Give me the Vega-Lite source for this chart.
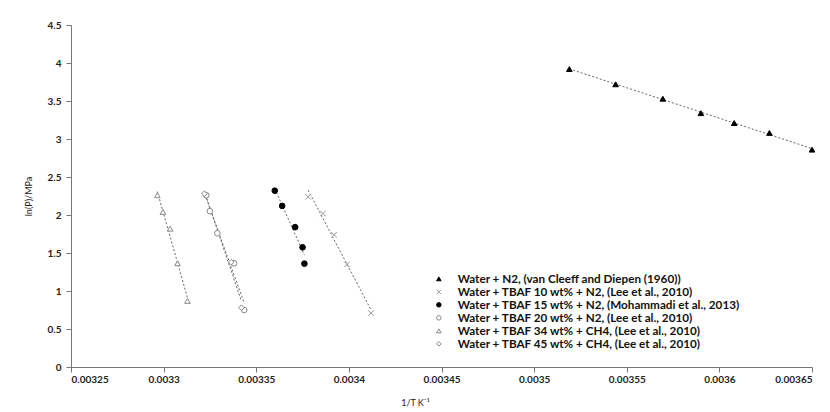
{
  "$schema": "https://vega.github.io/schema/vega-lite/v6.json",
  "width": 741,
  "height": 342,
  "autosize": "none",
  "padding": {"left": 71, "top": 25, "right": 18, "bottom": 45},
  "background": "white",
  "config": {
    "view": {"stroke": null},
    "font": "Lato",
    "axis": {
      "grid": false,
      "domainColor": "#777",
      "tickColor": "#777",
      "labelFont": "Lato",
      "labelFontWeight": "bold",
      "labelFontSize": 10,
      "labelColor": "#222",
      "labelOverlap": false,
      "titleFont": "Lato",
      "titleFontWeight": "normal",
      "titleFontSize": 9,
      "titleColor": "#222"
    }
  },
  "data": {
    "values": [
      {"s": "Water + N2, (van Cleeff and Diepen (1960))", "x": 0.003519, "y": 3.92},
      {"s": "Water + N2, (van Cleeff and Diepen (1960))", "x": 0.003544, "y": 3.72},
      {"s": "Water + N2, (van Cleeff and Diepen (1960))", "x": 0.0035695, "y": 3.53},
      {"s": "Water + N2, (van Cleeff and Diepen (1960))", "x": 0.00359, "y": 3.34},
      {"s": "Water + N2, (van Cleeff and Diepen (1960))", "x": 0.003608, "y": 3.21},
      {"s": "Water + N2, (van Cleeff and Diepen (1960))", "x": 0.003627, "y": 3.08},
      {"s": "Water + N2, (van Cleeff and Diepen (1960))", "x": 0.00365, "y": 2.86},
      {"s": "Water + TBAF 10 wt% + N2, (Lee et al., 2010)", "x": 0.003378, "y": 2.24},
      {"s": "Water + TBAF 10 wt% + N2, (Lee et al., 2010)", "x": 0.003386, "y": 2.02},
      {"s": "Water + TBAF 10 wt% + N2, (Lee et al., 2010)", "x": 0.003392, "y": 1.74},
      {"s": "Water + TBAF 10 wt% + N2, (Lee et al., 2010)", "x": 0.003399, "y": 1.35},
      {"s": "Water + TBAF 10 wt% + N2, (Lee et al., 2010)", "x": 0.003412, "y": 0.71},
      {"s": "Water + TBAF 15 wt% + N2, (Mohammadi et al., 2013)", "x": 0.00336, "y": 2.32},
      {"s": "Water + TBAF 15 wt% + N2, (Mohammadi et al., 2013)", "x": 0.003364, "y": 2.12},
      {"s": "Water + TBAF 15 wt% + N2, (Mohammadi et al., 2013)", "x": 0.003371, "y": 1.84},
      {"s": "Water + TBAF 15 wt% + N2, (Mohammadi et al., 2013)", "x": 0.003375, "y": 1.575},
      {"s": "Water + TBAF 15 wt% + N2, (Mohammadi et al., 2013)", "x": 0.003376, "y": 1.36},
      {"s": "Water + TBAF 20 wt% + N2, (Lee et al., 2010)", "x": 0.003323, "y": 2.26},
      {"s": "Water + TBAF 20 wt% + N2, (Lee et al., 2010)", "x": 0.003325, "y": 2.05},
      {"s": "Water + TBAF 20 wt% + N2, (Lee et al., 2010)", "x": 0.003329, "y": 1.76},
      {"s": "Water + TBAF 20 wt% + N2, (Lee et al., 2010)", "x": 0.003338, "y": 1.365},
      {"s": "Water + TBAF 20 wt% + N2, (Lee et al., 2010)", "x": 0.0033435, "y": 0.75},
      {"s": "Water + TBAF 34 wt% + CH4, (Lee et al., 2010)", "x": 0.0032966, "y": 2.26},
      {"s": "Water + TBAF 34 wt% + CH4, (Lee et al., 2010)", "x": 0.0032996, "y": 2.04},
      {"s": "Water + TBAF 34 wt% + CH4, (Lee et al., 2010)", "x": 0.0033035, "y": 1.82},
      {"s": "Water + TBAF 34 wt% + CH4, (Lee et al., 2010)", "x": 0.0033075, "y": 1.365},
      {"s": "Water + TBAF 34 wt% + CH4, (Lee et al., 2010)", "x": 0.0033129, "y": 0.87},
      {"s": "Water + TBAF 45 wt% + CH4, (Lee et al., 2010)", "x": 0.003322, "y": 2.28},
      {"s": "Water + TBAF 45 wt% + CH4, (Lee et al., 2010)", "x": 0.0033365, "y": 1.38},
      {"s": "Water + TBAF 45 wt% + CH4, (Lee et al., 2010)", "x": 0.003342, "y": 0.78}
    ]
  },
  "encoding": {
    "x": {
      "field": "x",
      "type": "quantitative",
      "scale": {"domain": [0.00325, 0.00365], "nice": false, "zero": false},
      "axis": {"values": [0.00325, 0.0033, 0.00335, 0.0034, 0.00345, 0.0035, 0.00355, 0.0036, 0.00365], "format": ".5~f", "title": "1/T K⁻¹", "titlePadding": 14, "tickSize": 5, "labelPadding": 2, "titleX": 344}
    },
    "y": {
      "field": "y",
      "type": "quantitative",
      "scale": {"domain": [0, 4.5], "nice": false, "zero": true},
      "axis": {"values": [0, 0.5, 1, 1.5, 2, 2.5, 3, 3.5, 4, 4.5], "format": ".1~f", "title": "ln(P)/MPa", "tickSize": 5, "labelPadding": 5, "titlePadding": 14}
    }
  },
  "layer": [
    {
      "transform": [{"regression": "y", "on": "x", "groupby": ["s"]}],
      "mark": {"type": "line", "color": "#666", "strokeWidth": 1, "strokeDash": [2, 2]},
      "encoding": {
        "detail": {"field": "s"}
      }
    },
    {
      "mark": {"type": "point", "filled": true, "strokeWidth": 1, "opacity": 1},
      "encoding": {
        "shape": {
          "field": "s",
          "type": "nominal",
          "scale": {
            "domain": [
              "Water + N2, (van Cleeff and Diepen (1960))",
              "Water + TBAF 10 wt% + N2, (Lee et al., 2010)",
              "Water + TBAF 15 wt% + N2, (Mohammadi et al., 2013)",
              "Water + TBAF 20 wt% + N2, (Lee et al., 2010)",
              "Water + TBAF 34 wt% + CH4, (Lee et al., 2010)",
              "Water + TBAF 45 wt% + CH4, (Lee et al., 2010)"
            ],
            "range": ["triangle-up", "M-1,-1L1,1M-1,1L1,-1", "circle", "circle", "triangle-up", "diamond"]
          },
          "legend": {
            "title": null,
            "orient": "none",
            "legendX": 362,
            "legendY": 248,
            "labelFont": "Lato",
            "labelFontWeight": "bold",
            "labelFontSize": 11.7,
            "labelColor": "#111",
            "labelLimit": 0,
            "rowPadding": -2.2,
            "symbolSize": 20,
            "labelOffset": 13,
            "symbolStrokeWidth": 1
          }
        },
        "fill": {
          "field": "s",
          "type": "nominal",
          "scale": {
            "domain": [
              "Water + N2, (van Cleeff and Diepen (1960))",
              "Water + TBAF 10 wt% + N2, (Lee et al., 2010)",
              "Water + TBAF 15 wt% + N2, (Mohammadi et al., 2013)",
              "Water + TBAF 20 wt% + N2, (Lee et al., 2010)",
              "Water + TBAF 34 wt% + CH4, (Lee et al., 2010)",
              "Water + TBAF 45 wt% + CH4, (Lee et al., 2010)"
            ],
            "range": ["#000000", "#888888", "#000000", "#ffffff", "#ffffff", "#ffffff"]
          },
          "legend": null
        },
        "stroke": {
          "field": "s",
          "type": "nominal",
          "scale": {
            "domain": [
              "Water + N2, (van Cleeff and Diepen (1960))",
              "Water + TBAF 10 wt% + N2, (Lee et al., 2010)",
              "Water + TBAF 15 wt% + N2, (Mohammadi et al., 2013)",
              "Water + TBAF 20 wt% + N2, (Lee et al., 2010)",
              "Water + TBAF 34 wt% + CH4, (Lee et al., 2010)",
              "Water + TBAF 45 wt% + CH4, (Lee et al., 2010)"
            ],
            "range": ["#000000", "#999999", "#000000", "#888888", "#888888", "#888888"]
          },
          "legend": null
        },
        "size": {"value": 32}
      }
    }
  ]
}
